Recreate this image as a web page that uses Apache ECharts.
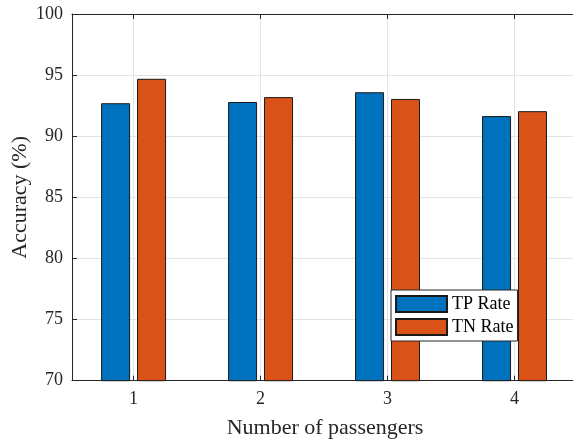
<!DOCTYPE html>
<html>
<head>
<meta charset="utf-8">
<script src="https://cdn.jsdelivr.net/npm/echarts@6/dist/echarts.min.js"></script>
<style>
  html, body { margin: 0; padding: 0; background: #fff; }
  #chart { width: 573px; height: 445px; }
</style>
</head>
<body>
<div id="chart"></div>
<script>
// Passenger counts on the x axis
const passengerCounts = [1, 2, 3, 4];
// Detection accuracy per passenger count (%)
const tpRate = [92.7, 92.8, 93.6, 91.65];
const tnRate = [94.7, 93.2, 93.05, 92.05];
const yTicks = [70, 75, 80, 85, 90, 95, 100];

const serif = 'Liberation Serif, Times New Roman, serif';
const ink = '#262626';

const toPairs = (vals) => passengerCounts.map((c, i) => [c, vals[i]]);

const chart = echarts.init(document.getElementById('chart'), null, { renderer: 'canvas' });

chart.setOption({
  animation: false,
  backgroundColor: '#fff',
  // the plot box runs a little past the right edge of the canvas
  grid: { left: 72, top: 14, width: 506, height: 366.7, containLabel: false, outerBoundsMode: 'none' },
  xAxis: [
    {
      type: 'value',
      min: 0.515,
      max: 4.5,
      name: 'Number of passengers',
      nameLocation: 'middle',
      nameGap: 37,
      nameMoveOverlap: false,
      nameTextStyle: { fontFamily: serif, fontSize: 22, color: ink },
      axisLine: { show: true, lineStyle: { color: ink, width: 1 } },
      axisTick: { show: true, inside: true, length: 5, customValues: passengerCounts, lineStyle: { color: ink } },
      axisLabel: { customValues: passengerCounts, fontFamily: serif, fontSize: 18, color: ink, margin: 10 },
      splitLine: { show: true, lineStyle: { color: '#e3e3e3', width: 1 } }
    },
    {
      type: 'value',
      position: 'top',
      min: 0.515,
      max: 4.5,
      axisLine: { show: true, lineStyle: { color: ink, width: 1 } },
      axisTick: { show: true, inside: true, length: 5, customValues: passengerCounts, lineStyle: { color: ink } },
      axisLabel: { show: false },
      splitLine: { show: false }
    }
  ],
  yAxis: {
    type: 'value',
    min: yTicks[0],
    max: yTicks[yTicks.length - 1],
    interval: 5,
    name: 'Accuracy (%)',
    nameLocation: 'middle',
    nameGap: 41,
    nameMoveOverlap: false,
    nameTextStyle: { fontFamily: serif, fontSize: 22, color: ink },
    axisLine: { show: true, lineStyle: { color: ink, width: 1 } },
    axisTick: { show: true, inside: true, length: 5, lineStyle: { color: ink } },
    axisLabel: { fontFamily: serif, fontSize: 18, color: ink, margin: 9 },
    splitLine: { show: true, lineStyle: { color: '#e3e3e3', width: 1 } }
  },
  legend: {
    orient: 'vertical',
    left: 391,
    top: 290,
    itemWidth: 51,
    itemHeight: 16,
    itemGap: 5,
    padding: [5, 4, 5, 4],
    backgroundColor: '#fff',
    borderColor: ink,
    borderWidth: 1,
    borderRadius: 0,
    icon: 'rect',
    textStyle: { fontFamily: serif, fontSize: 18, lineHeight: 16, color: '#000' },
    data: ['TP Rate', 'TN Rate']
  },
  series: [
    {
      name: 'TP Rate',
      type: 'bar',
      data: toPairs(tpRate),
      barWidth: 29,
      barGap: '24%',
      itemStyle: { color: '#0072BD', borderColor: '#1a1a1a', borderWidth: 1 }
    },
    {
      name: 'TN Rate',
      type: 'bar',
      data: toPairs(tnRate),
      barWidth: 29,
      barGap: '24%',
      itemStyle: { color: '#D95319', borderColor: '#1a1a1a', borderWidth: 1 }
    }
  ]
});
</script>
</body>
</html>
